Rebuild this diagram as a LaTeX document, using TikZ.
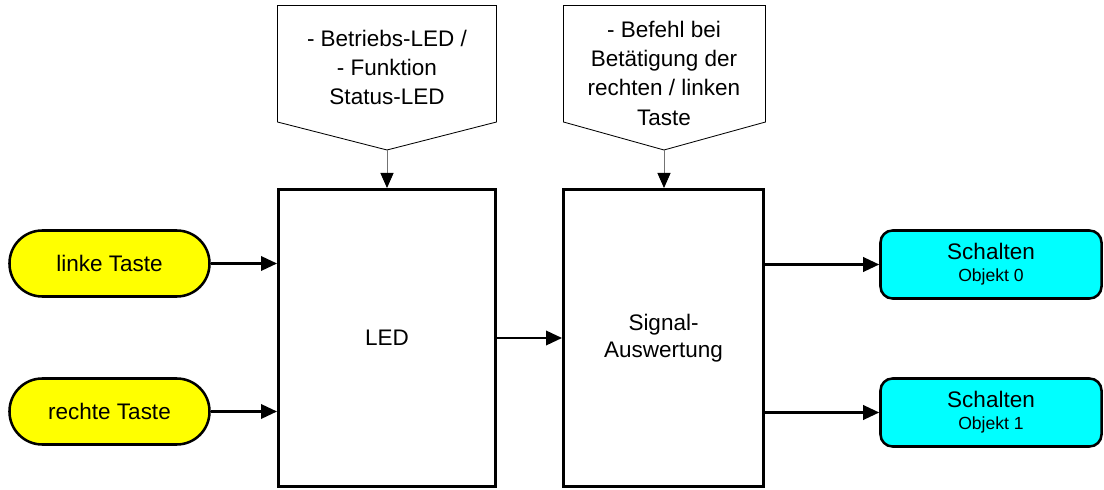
\documentclass[tikz,border=0pt]{standalone}
\usepackage{fontspec}
\setmainfont{Liberation Sans}
\usetikzlibrary{arrows.meta}
\definecolor{gelb}{RGB}{255,255,0}
\definecolor{tuerkis}{RGB}{0,255,255}

\begin{document}
\begin{tikzpicture}[
        taste/.style={draw,line width=1.8pt,fill=gelb,rounded corners=0.82cm,
          minimum width=5cm,minimum height=1.65cm,inner sep=0pt,font=\fontsize{16}{19}\selectfont},
        block/.style={draw,line width=2.1pt,minimum height=7.425cm,inner sep=0pt,
          align=center,font=\fontsize{16}{19}\selectfont},
        ausgang/.style={draw,line width=1.8pt,fill=tuerkis,rounded corners=0.3cm,
          minimum width=5.525cm,minimum height=1.7cm,inner sep=0pt,align=center,
          font=\fontsize{16}{15.6}\selectfont},
        hinweis/.style={align=center,font=\fontsize{16}{20.8}\selectfont},
        pfeil/.style={-{Triangle[length=4mm,width=3.6mm]},line width=1.6pt},
        zeiger/.style={-{Triangle[length=3.8mm,width=3.3mm,color=black]},line width=0.7pt,draw=black!55}
        ]
        \useasboundingbox (0,0) rectangle (27.6,-12.25);

        \draw (2.7375,-6.5875) node[taste] (LT) {linke Taste};
        \draw (2.7375,-10.2875) node[taste] (RT) {rechte Taste};

        \draw (9.675,-8.45) node[block,minimum width=5.425cm] (LED) {LED};
        \draw (16.5875,-8.45) node[block,minimum width=5cm] (SA) {Signal-\\Auswertung};

        \draw (24.775,-6.6125) node[ausgang] (S0) {Schalten\\{\fontsize{12.5}{15}\selectfont Objekt 0}};
        \draw (24.775,-10.3125) node[ausgang] (S1) {Schalten\\{\fontsize{12.5}{15}\selectfont Objekt 1}};

        % Hinweise oben
        \draw[line width=0.6pt] (6.9375,-0.1375) -- (12.4125,-0.1375) -- (12.4125,-3.05)
        -- (9.675,-3.75) coordinate (CAp) -- (6.9375,-3.05) -- cycle;
        \draw (9.675,-1.69) node[hinweis] (CA) {- Betriebs-LED /\\- Funktion\\Status-LED};

        \draw[line width=0.6pt] (14.0875,-0.1375) -- (19.1375,-0.1375) -- (19.1375,-3.05)
        -- (16.6,-3.75) coordinate (CBp) -- (14.0875,-3.05) -- cycle;
        \draw (16.6,-1.83) node[hinweis] (CB) {- Befehl bei\\Betätigung der\\rechten / linken\\Taste};

        \draw[zeiger] (CAp) -- (CAp |- LED.north);
        \draw[zeiger] (CBp) -- (CBp |- SA.north);

        \draw[pfeil] (LT.east) -- (LED.west |- LT);
        \draw[pfeil] (RT.east) -- (LED.west |- RT);
        \draw[pfeil] (LED.east) -- (SA.west);
        \draw[pfeil] (SA.east |- S0) -- (S0.west);
        \draw[pfeil] (SA.east |- S1) -- (S1.west);
\end{tikzpicture}
\end{document}
